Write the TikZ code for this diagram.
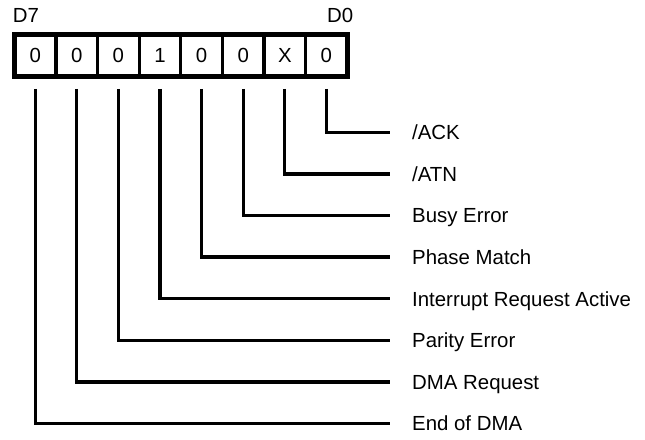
\documentclass[tikz,border=0pt]{standalone}
\usepackage{fontspec}
\setmainfont{Liberation Sans}
\begin{document}
\begin{tikzpicture}[x=1pt,y=-1pt,
  every node/.style={font=\fontsize{20.4}{24}\selectfont},
  cell/.style={draw, line width=3.3pt, minimum width=41.6pt, minimum height=41.5pt,
    inner sep=0pt, outer sep=0pt, text height=14.6pt, text depth=0pt},
  lbl/.style={anchor=west, inner sep=0pt, text height=14.6pt, text depth=0pt},
  bitname/.style={anchor=base west, inner sep=0pt},
  conn/.style={line width=3.3pt, line join=miter},
  frame/.style={line width=4.7pt, line join=miter}]
\useasboundingbox (0,0) rectangle (645,439);
% register cells
\node[cell] (b7) at (35.2,55.5) {0};
\node[cell] (b6) at (76.8,55.5) {0};
\node[cell] (b5) at (118.4,55.5) {0};
\node[cell] (b4) at (160.0,55.5) {1};
\node[cell] (b3) at (201.6,55.5) {0};
\node[cell] (b2) at (243.2,55.5) {0};
\node[cell] (b1) at (284.8,55.5) {X};
\node[cell] (b0) at (326.4,55.5) {0};
\draw[frame] (b7.north west) rectangle (b0.south east);
% bit names
\node[bitname] (d7) at (12.7,23) {D7};
\node[bitname] (d0) at (327,23) {D0};
% labels
\node[lbl] (l0) at (412,132.3) {/ACK};
\node[lbl] (l1) at (412,173.9) {/ATN};
\node[lbl] (l2) at (412,215.5) {Busy Error};
\node[lbl] (l3) at (412,257.1) {Phase Match};
\node[lbl] (l4) at (412,298.7) {Interrupt Request Active};
\node[lbl] (l5) at (412,340.3) {Parity Error};
\node[lbl] (l6) at (412,381.9) {DMA Request};
\node[lbl] (l7) at (412,423.5) {End of DMA};
% connectors
\foreach \k in {0,...,7}{
  \draw[conn] ([yshift=-12.7pt]b\k.south) |- ([xshift=-22pt]l\k.west);
}
\end{tikzpicture}
\end{document}
